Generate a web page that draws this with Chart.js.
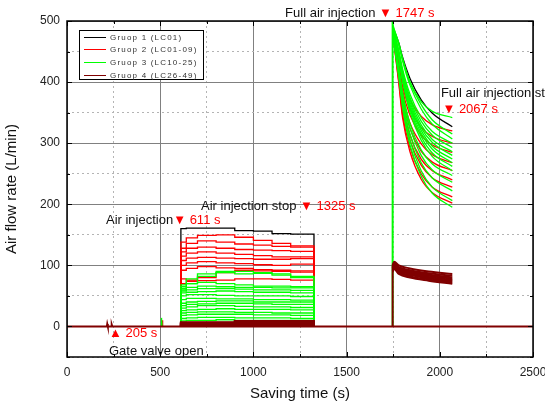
<!DOCTYPE html>
<html lang="en">
<head>
<meta charset="UTF-8">
<title>Air flow rate</title>
<script src="https://cdn.jsdelivr.net/npm/chart.js"></script>
<style>
    html, body { margin: 0; padding: 0; background: #fff; }
    .chart-box { width: 545px; height: 409px; position: relative; }
</style>
</head>
<body>
<div class="chart-box"><canvas id="flowChart"></canvas></div>
<script>
// ---- data (s, L/min) ----
const p1Times = [611, 640, 700, 800, 900, 1000, 1100, 1200, 1325];
const p2Times = [1747, 1780, 1800, 1840, 1900, 1960, 2067];
const p2DarkTimes = [1747, 1755, 1780, 1840, 1940, 2067];

const blackP1 = [160, 161, 161, 161, 157, 156, 152, 151, 150];
const blackP2 = [490, 464, 441, 406, 371, 349, 327];

const redP1 = [
    [138, 145, 149, 150, 146, 141, 136, 132, 128],
    [128, 136, 140, 138, 135, 133, 131, 130, 130],
    [122, 128, 130, 128, 126, 125, 124, 123, 121],
    [115, 120, 122, 120, 118, 116, 114, 114, 115],
    [108, 112, 113, 112, 111, 110, 110, 111, 111],
    [100, 104, 106, 104, 103, 101, 100, 102, 104],
    [92, 95, 98, 96, 95, 93, 92, 91, 90],
    [70, 74, 80, 88, 92, 91, 90, 89, 88],
    [78, 76, 75, 76, 78, 78, 77, 76, 75]
];
const redP2 = [
    [490, 439, 405, 371, 344, 330, 320],
    [488, 432, 394, 356, 326, 311, 300],
    [488, 427, 387, 346, 313, 297, 285],
    [486, 421, 377, 333, 299, 281, 268],
    [486, 417, 371, 324, 287, 269, 255],
    [484, 411, 362, 313, 274, 255, 240],
    [484, 407, 356, 305, 264, 243, 228],
    [482, 401, 347, 293, 250, 228, 212],
    [482, 398, 342, 286, 241, 219, 202]
];

const greenP1 = [
    [60, 70, 82, 90, 90, 88, 84, 80, 76],
    [65, 78, 86, 88, 86, 87, 86, 82, 78],
    [68, 70, 72, 70, 68, 66, 66, 65, 64],
    [62, 64, 66, 65, 64, 64, 63, 63, 62],
    [58, 60, 62, 62, 61, 60, 60, 59, 58],
    [55, 56, 57, 58, 57, 56, 56, 55, 55],
    [50, 52, 52, 51, 50, 50, 50, 49, 48],
    [44, 46, 46, 45, 45, 44, 44, 43, 42],
    [38, 40, 41, 42, 42, 40, 40, 40, 40],
    [34, 36, 37, 38, 38, 37, 36, 36, 35],
    [30, 32, 34, 34, 33, 32, 32, 31, 30],
    [26, 27, 28, 29, 28, 28, 28, 27, 27],
    [22, 23, 24, 24, 23, 23, 22, 22, 22],
    [18, 19, 20, 20, 20, 19, 19, 18, 18],
    [13, 14, 15, 15, 14, 14, 14, 13, 13],
    [9, 10, 10, 11, 10, 10, 10, 10, 10]
];
const greenP2 = [
    [495, 462, 438, 400, 368, 352, 342],
    [492, 464, 439, 400, 363, 338, 315],
    [490, 461, 435, 395, 356, 331, 307],
    [490, 452, 422, 380, 342, 319, 300],
    [488, 449, 418, 375, 336, 313, 293],
    [488, 448, 415, 371, 330, 306, 286],
    [486, 445, 412, 367, 325, 301, 280],
    [486, 444, 410, 363, 321, 295, 274],
    [485, 442, 407, 359, 316, 290, 268],
    [485, 440, 405, 356, 311, 284, 262],
    [484, 438, 402, 351, 305, 278, 255],
    [483, 424, 384, 332, 289, 266, 247],
    [482, 420, 379, 325, 280, 256, 236],
    [480, 416, 372, 315, 268, 243, 222],
    [480, 412, 365, 305, 255, 228, 206],
    [478, 407, 359, 297, 246, 218, 195]
];

const darkP1 = [
    [7, 7, 7, 7, 9, 9, 9, 9, 9],
    [6, 6, 6, 6, 8, 8, 8, 8, 8],
    [5, 5, 5, 5, 6, 7, 7, 7, 7],
    [5, 5, 5, 5, 5, 5, 6, 6, 6],
    [4, 4, 4, 4, 4, 4, 5, 5, 5],
    [3, 3, 3, 3, 3, 3, 4, 4, 4],
    [2, 2, 2, 2, 2, 3, 3, 3, 3],
    [1, 1, 1, 1, 1, 2, 2, 2, 2]
];
const darkP2 = [
    [100, 106, 100, 95, 90, 86],
    [98, 103, 97, 92, 87, 83],
    [96, 101, 95, 90, 85, 80],
    [95, 99, 93, 88, 83, 78],
    [94, 97, 91, 86, 81, 76],
    [93, 96, 89, 84, 79, 74],
    [92, 95, 88, 82, 77, 72],
    [90, 94, 86, 80, 75, 70]
];

// small blips around gate opening
const gateDark = [[0, 0], [214, 0], [216, 4], [219, 0], [238, 0], [240, 3], [243, 0], [2500, 0]];
const blipRed = [[508, 0], [510, 10], [513, 0]];
const blipGreen = [[505, 0], [507, 14], [510, 0]];

const xMajor = [0, 500, 1000, 1500, 2000, 2500];
const yMajor = [0, 100, 200, 300, 400, 500];

const groupNames = ['Gruop 1 (LC01)', 'Gruop 2 (LC01-09)', 'Gruop 3 (LC10-25)', 'Gruop 4 (LC26-49)'];
const groupColors = ['#000000', '#ff0000', '#00ff00', '#800000'];

// ---- dataset builders ----
function pts(times, vals) {
    return times.map((t, i) => ({ x: t, y: vals[i] }));
}
function stepLine(times, vals, color, w) {
    const last = times.length - 1;
    return {
        data: [{ x: times[0], y: 0 }, ...pts(times, vals), { x: times[last], y: 0 }],
        borderColor: color, borderWidth: w, stepped: 'before'
    };
}
function curve(times, vals, color, w) {
    return {
        data: pts(times, vals),
        borderColor: color, borderWidth: w, cubicInterpolationMode: 'monotone'
    };
}
function edges(sets, times, color, w) {
    // vertical rise at 1747 s and drop at 2067 s
    const peak = Math.max(...sets.map(s => s[0]));
    const end = Math.max(...sets.map(s => s[s.length - 1]));
    return {
        data: [{ x: times[0], y: 0 }, { x: times[0], y: peak }, { x: NaN, y: NaN },
               { x: times[times.length - 1], y: 0 }, { x: times[times.length - 1], y: end }],
        borderColor: color, borderWidth: w, spanGaps: false
    };
}
function raw(list, color, w) {
    return { data: list.map(p => ({ x: p[0], y: p[1] })), borderColor: color, borderWidth: w };
}

const datasets = [];
// group 4 drawn on top (first dataset is painted last)
datasets.push(raw(gateDark, groupColors[3], 2));
darkP1.forEach(v => datasets.push(stepLine(p1Times, v, groupColors[3], 2)));
darkP2.forEach(v => datasets.push(curve(p2DarkTimes, v, groupColors[3], 2)));
datasets.push(edges(darkP2, p2DarkTimes, groupColors[3], 2));
// group 3
datasets.push(raw(blipGreen, groupColors[2], 1.3));
greenP1.forEach(v => datasets.push(stepLine(p1Times, v, groupColors[2], 1.3)));
greenP2.forEach(v => datasets.push(curve(p2Times, v, groupColors[2], 1.3)));
datasets.push(edges(greenP2.concat([[505, 0]]), p2Times, groupColors[2], 2));
// group 2
datasets.push(raw(blipRed, groupColors[1], 1.3));
redP1.forEach(v => datasets.push(stepLine(p1Times, v, groupColors[1], 1.3)));
redP2.forEach(v => datasets.push(curve(p2Times, v, groupColors[1], 1.3)));
// group 1
datasets.push(stepLine(p1Times, blackP1, groupColors[0], 1.3));
datasets.push(curve(p2Times, blackP2, groupColors[0], 1.3));

// ---- plugins: frame with inward ticks, legend, annotations ----
const framePlugin = {
    id: 'frame',
    afterDatasetsDraw(chart) {
        const { ctx, chartArea: a, scales: { x, y } } = chart;
        ctx.save();
        ctx.strokeStyle = '#000';
        ctx.lineWidth = 1;
        ctx.beginPath();
        x.ticks.forEach(t => {
            const px = Math.round(x.getPixelForValue(t.value)) + 0.5;
            const len = t.value % 500 === 0 ? 5 : 3;
            ctx.moveTo(px, a.bottom); ctx.lineTo(px, a.bottom - len);
            ctx.moveTo(px, a.top); ctx.lineTo(px, a.top + len);
        });
        y.ticks.forEach(t => {
            const py = Math.round(y.getPixelForValue(t.value)) + 0.5;
            const len = t.value % 100 === 0 ? 5 : 3;
            ctx.moveTo(a.left, py); ctx.lineTo(a.left + len, py);
            ctx.moveTo(a.right, py); ctx.lineTo(a.right - len, py);
        });
        ctx.stroke();
        ctx.lineWidth = 1.5;
        ctx.strokeRect(a.left, a.top, a.right - a.left, a.bottom - a.top);
        ctx.restore();
    },
    afterDraw(chart) {
        const { ctx, chartArea: a, scales: { x, y } } = chart;
        ctx.save();
        // legend box
        const lx = a.left + 12, ly = a.top + 9;
        ctx.fillStyle = '#fff';
        ctx.fillRect(lx, ly, 124, 49);
        ctx.strokeStyle = '#000';
        ctx.lineWidth = 1;
        ctx.strokeRect(lx + 0.5, ly + 0.5, 124, 49);
        ctx.font = '8px "Liberation Sans", Arial, sans-serif';
        ctx.letterSpacing = '1.2px';
        ctx.textBaseline = 'middle';
        groupNames.forEach((name, i) => {
            const ry = Math.round(ly + 6.5 + i * 12.8) + 0.5;
            ctx.strokeStyle = groupColors[i];
            ctx.lineWidth = 1;
            ctx.beginPath();
            ctx.moveTo(lx + 5, ry); ctx.lineTo(lx + 27, ry);
            ctx.stroke();
            ctx.fillStyle = '#333';
            ctx.fillText(name, lx + 31, ry);
        });
        ctx.letterSpacing = '0px';

        // annotations, anchored in data units
        ctx.font = '13px "Liberation Sans", Arial, sans-serif';
        ctx.textBaseline = 'alphabetic';
        const note = (tx, vy, parts) => {
            let px = x.getPixelForValue(tx);
            const py = y.getPixelForValue(vy);
            parts.forEach(([txt, col]) => {
                ctx.fillStyle = col;
                ctx.fillText(txt, px, py);
                px += ctx.measureText(txt).width;
            });
        };
        const K = '#111', R = '#ff0000';
        note(1170, 506, [['Full air injection ', K], ['\u25BC 1747 s', R]]);
        note(2006, 376, [['Full air injection stop', K]]);
        note(2014, 350, [['\u25BC 2067 s', R]]);
        note(719, 191, [['Air injection stop ', K], ['\u25BC 1325 s', R]]);
        note(209, 168, [['Air injection', K], ['\u25BC 611 s', R]]);
        note(225, -18, [['\u25B2 205 s', R]]);
        note(225, -46, [['Gate valve open', K]]);
        ctx.restore();
    }
};

const tickFont = { family: '"Liberation Sans", Arial, sans-serif', size: 12 };
const titleFont = { family: '"Liberation Sans", Arial, sans-serif', size: 15 };

new Chart(document.getElementById('flowChart').getContext('2d'), {
    type: 'line',
    data: { datasets },
    options: {
        responsive: true,
        maintainAspectRatio: false,
        animation: false,
        parsing: false,
        normalized: true,
        elements: { point: { radius: 0 }, line: { fill: false } },
        layout: { padding: { top: 21, right: 12, left: 0, bottom: 0 } },
        plugins: { legend: { display: false }, tooltip: { enabled: false } },
        scales: {
            x: {
                type: 'linear', min: 0, max: 2500,
                afterBuildTicks: s => { s.ticks = [0, 250, 500, 750, 1000, 1250, 1500, 1750, 2000, 2250, 2500].map(v => ({ value: v })); },
                afterFit: s => { s.height = 52; s.paddingLeft = 0; s.paddingRight = 0; },
                ticks: {
                    autoSkip: false, maxRotation: 0, padding: 8, color: '#222', font: tickFont,
                    callback: v => xMajor.includes(v) ? String(v) : ''
                },
                grid: {
                    drawTicks: false, lineWidth: 1,
                    color: c => (c.tick && c.tick.value % 500 === 0) ? '#808080' : '#b4b4b4'
                },
                border: { display: false, dash: c => (c.tick && c.tick.value % 500 === 0) ? [] : [2, 3] },
                title: { display: true, text: 'Saving time (s)', color: '#111', font: titleFont, padding: { top: 0, bottom: 6 } }
            },
            y: {
                type: 'linear', min: -50, max: 500,
                afterBuildTicks: s => { s.ticks = [-50, 0, 50, 100, 150, 200, 250, 300, 350, 400, 450, 500].map(v => ({ value: v })); },
                afterFit: s => { s.width = 67; s.paddingTop = 0; s.paddingBottom = 0; },
                ticks: {
                    autoSkip: false, padding: 7, color: '#222', font: tickFont,
                    callback: v => yMajor.includes(v) ? String(v) : ''
                },
                grid: {
                    drawTicks: false, lineWidth: 1,
                    color: c => (c.tick && c.tick.value % 100 === 0) ? '#808080' : '#b4b4b4'
                },
                border: { display: false, dash: c => (c.tick && c.tick.value % 100 === 0) ? [] : [2, 3] },
                title: { display: true, text: 'Air flow rate (L/min)', color: '#111', font: titleFont, padding: { top: 3, bottom: 0 } }
            }
        }
    },
    plugins: [framePlugin]
});
</script>
</body>
</html>
